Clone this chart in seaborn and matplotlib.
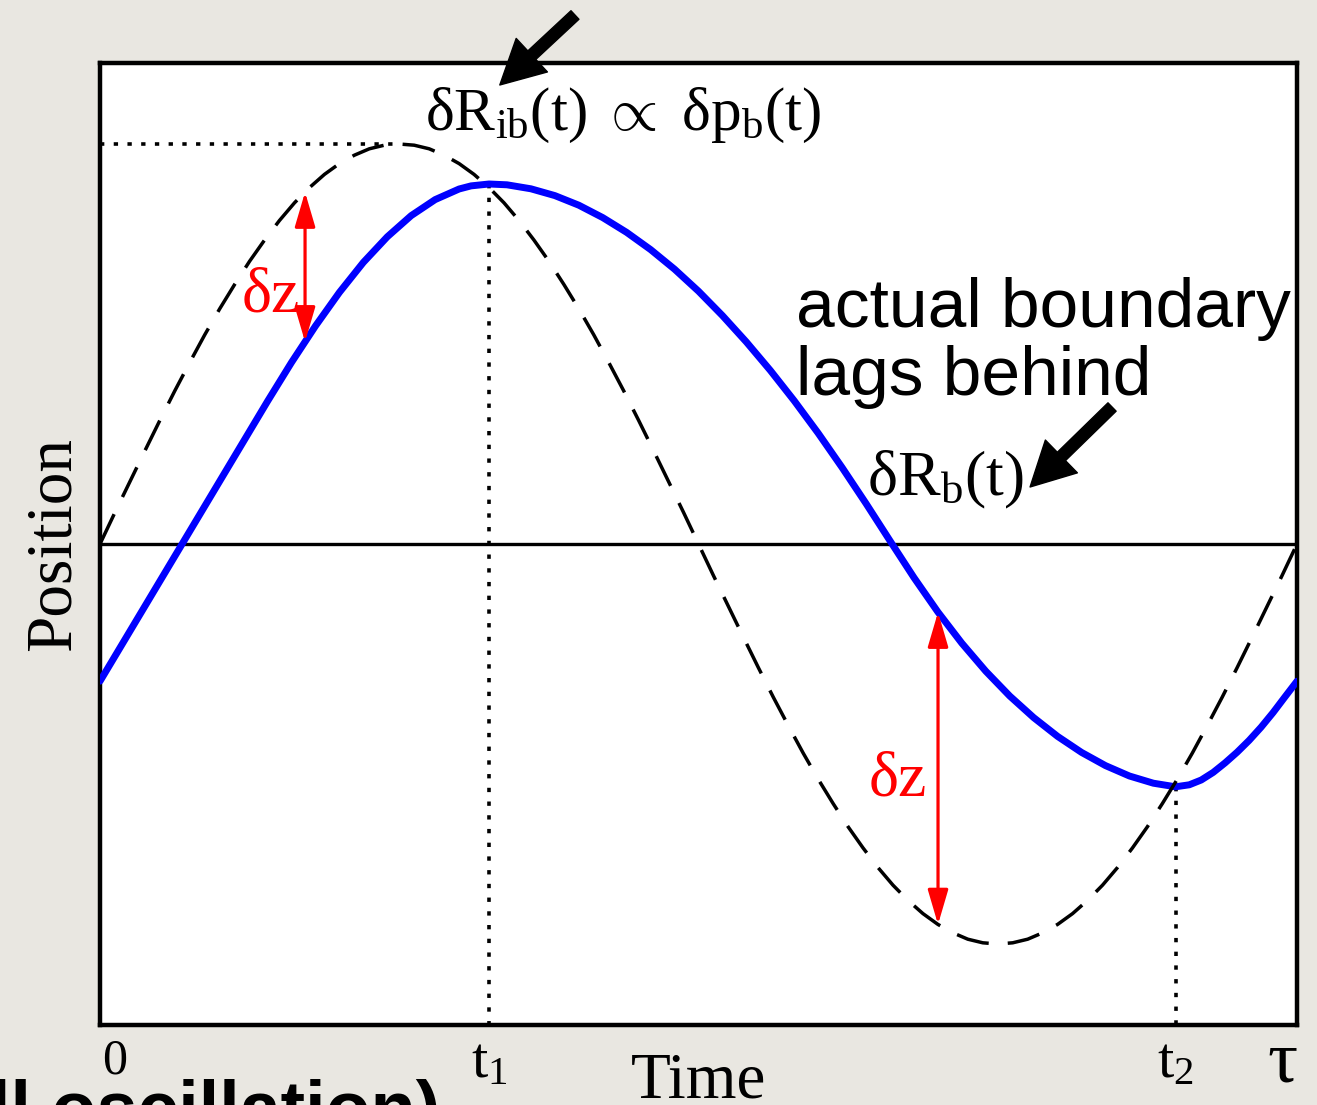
import numpy as np
import pandas as pd
import matplotlib
matplotlib.use("Agg")
import matplotlib.pyplot as plt
import seaborn as sns

# ---------------- data ----------------
# driving (instantaneous) boundary  dR_ib(t): dashed curve, sampled every 0.0125 tau
t_ib = [0.0000, 0.0125, 0.0250, 0.0375, 0.0500, 0.0625, 0.0750, 0.0875, 0.1000, 0.1125,
        0.1250, 0.1375, 0.1500, 0.1625, 0.1750, 0.1875, 0.2000, 0.2125, 0.2250, 0.2375,
        0.2500, 0.2625, 0.2750, 0.2875, 0.3000, 0.3125, 0.3250, 0.3375, 0.3500, 0.3625,
        0.3750, 0.3875, 0.4000, 0.4125, 0.4250, 0.4375, 0.4500, 0.4625, 0.4750, 0.4875,
        0.5000, 0.5125, 0.5250, 0.5375, 0.5500, 0.5625, 0.5750, 0.5875, 0.6000, 0.6125,
        0.6250, 0.6375, 0.6500, 0.6625, 0.6750, 0.6875, 0.7000, 0.7125, 0.7250, 0.7375,
        0.7500, 0.7625, 0.7750, 0.7875, 0.8000, 0.8125, 0.8250, 0.8375, 0.8500, 0.8625,
        0.8750, 0.8875, 0.9000, 0.9125, 0.9250, 0.9375, 0.9500, 0.9625, 0.9750, 0.9875,
        1.0000]
r_ib = [0.000, 0.079, 0.156, 0.233, 0.309, 0.383, 0.454, 0.523, 0.588, 0.649,
        0.707, 0.760, 0.809, 0.853, 0.891, 0.924, 0.951, 0.972, 0.988, 0.997,
        1.000, 0.997, 0.988, 0.972, 0.951, 0.924, 0.891, 0.853, 0.809, 0.760,
        0.707, 0.649, 0.588, 0.523, 0.454, 0.383, 0.309, 0.233, 0.156, 0.079,
        0.000, -0.079, -0.156, -0.233, -0.309, -0.383, -0.454, -0.523, -0.588, -0.649,
        -0.707, -0.760, -0.809, -0.853, -0.891, -0.924, -0.951, -0.972, -0.988, -0.997,
        -1.000, -0.997, -0.988, -0.972, -0.951, -0.924, -0.891, -0.853, -0.809, -0.760,
        -0.707, -0.649, -0.588, -0.523, -0.454, -0.383, -0.309, -0.233, -0.156, -0.079,
        0.000]

# actual boundary dR_b(t): blue curve
t_b = [0.00, 0.02, 0.04, 0.06, 0.08, 0.10, 0.12, 0.14, 0.16, 0.18,
       0.20, 0.22, 0.24, 0.26, 0.28, 0.30, 0.31, 0.325, 0.34, 0.36,
       0.38, 0.40, 0.42, 0.44, 0.46, 0.48, 0.50, 0.52, 0.54, 0.56,
       0.58, 0.60, 0.62, 0.64, 0.66, 0.68, 0.70, 0.72, 0.74, 0.76,
       0.78, 0.80, 0.82, 0.84, 0.86, 0.88, 0.8985, 0.91, 0.92, 0.93,
       0.94, 0.95, 0.96, 0.97, 0.98, 0.99, 1.00]
r_b = [-0.343, -0.243, -0.143, -0.043, 0.057, 0.157, 0.257, 0.357, 0.454, 0.545,
       0.629, 0.704, 0.768, 0.821, 0.861, 0.8875, 0.8953, 0.900, 0.898, 0.888,
       0.871, 0.847, 0.816, 0.779, 0.736, 0.687, 0.632, 0.571, 0.505, 0.434,
       0.358, 0.277, 0.191, 0.101, 0.008, -0.084, -0.170, -0.248, -0.318, -0.380,
       -0.434, -0.481, -0.521, -0.554, -0.580, -0.598, -0.607, -0.602, -0.590, -0.571,
       -0.547, -0.5205, -0.491, -0.458, -0.4215, -0.382, -0.343]

tick_pos = [0.0125, 0.325, 0.8985, 0.988]
tick_labels = ['0', r'$\mathrm{t}_1$', r'$\mathrm{t}_2$', 'τ']
dz_times = [0.1713, 0.7001]

# ---------------- style ----------------
sns.set_theme(style="white")
plt.rcParams['font.family'] = ['Liberation Serif', 'DejaVu Serif']
plt.rcParams['text.color'] = 'black'
plt.rcParams['axes.labelcolor'] = 'black'
plt.rcParams['xtick.color'] = 'black'
plt.rcParams['mathtext.fontset'] = 'custom'
plt.rcParams['mathtext.rm'] = 'Liberation Serif'
plt.rcParams['mathtext.it'] = 'Liberation Serif:italic'
plt.rcParams['mathtext.bf'] = 'Liberation Serif:bold'

BG = '#e9e7e1'
W, H = 1317, 1105
fig = plt.figure(figsize=(W / 100, H / 100), dpi=100, facecolor=BG)
ax = fig.add_axes([100 / W, 1 - 1025 / H, 1197 / W, 962 / H])
ax.set_facecolor('white')

df_ib = pd.DataFrame({'t': t_ib, 'r': r_ib})
df_b = pd.DataFrame({'t': t_b, 'r': r_b})

sns.lineplot(data=df_b, x='t', y='r', ax=ax, color='#0000ff', lw=5.0,
             sort=False, zorder=3)
sns.lineplot(data=df_ib, x='t', y='r', ax=ax, color='black', lw=2.5,
             linestyle=(0, (9.5, 5.5)), sort=False, zorder=4)

ax.set_xlim(0, 1)
ax.set_ylim(-1.2025, 1.2025)

# zero line
ax.axhline(0, color='black', lw=2.4, zorder=2)

# guide lines derived from the data
i_pk = int(np.argmax(r_ib))
t1 = t_b[int(np.argmax(r_b))]
t2 = t_b[int(np.argmin(r_b))]
dot = (0, (1.2, 2.6))
ax.plot([0, t_ib[i_pk]], [r_ib[i_pk], r_ib[i_pk]], color='black', lw=2.6,
        linestyle=dot, zorder=2)
ax.plot([t1, t1], [max(r_b), -1.2025], color='black', lw=2.6, linestyle=dot, zorder=2)
ax.plot([t2, t2], [min(r_b), -1.2025], color='black', lw=2.6, linestyle=dot, zorder=2)

# red dz arrows
for tz in dz_times:
    a = float(np.interp(tz, t_ib, r_ib))
    b = float(np.interp(tz, t_b, r_b))
    ax.annotate('', xy=(tz, a), xytext=(tz, b),
                arrowprops=dict(arrowstyle='<|-|>,head_length=0.85,head_width=0.25',
                                mutation_scale=25, color='#ff0000', lw=2.3,
                                shrinkA=0, shrinkB=0), zorder=5)
ax.text(0.1671, 0.58, 'δz', color='#ff0000', fontsize=46, ha='right',
        va='baseline', zorder=6)
ax.text(0.6909, -0.6275, 'δz', color='#ff0000', fontsize=46, ha='right',
        va='baseline', zorder=6)

# labels on curves
ax.text(0.437, 1.035, r'$\mathrm{δR}_{\mathrm{ib}}\mathrm{(t)\ \propto\ δp}_{\mathrm{b}}\mathrm{(t)}$',
        fontsize=44, ha='center', va='baseline', zorder=6)
ax.text(0.7065, 0.1225, r'$\mathrm{δR}_{\mathrm{b}}\mathrm{(t)}$',
        fontsize=46, ha='center', va='baseline', zorder=6)
ax.text(0.5815, 0.5425, 'actual boundary', fontsize=50, family='Liberation Sans',
        ha='left', va='baseline', zorder=6)
ax.text(0.5815, 0.3725, 'lags behind', fontsize=50, family='Liberation Sans',
        ha='left', va='baseline', zorder=6)

# black arrows
big = 'simple,head_length=1.05,head_width=1.1,tail_width=0.28'
ax.annotate('', xy=(0.334, 1.1475), xytext=(0.3968, 1.3225),
            arrowprops=dict(arrowstyle=big, mutation_scale=30, color='black',
                            shrinkA=0, shrinkB=0),
            annotation_clip=False, zorder=7)
ax.annotate('', xy=(0.777, 0.1425), xytext=(0.8455, 0.3425),
            arrowprops=dict(arrowstyle=big, mutation_scale=30, color='black',
                            shrinkA=0, shrinkB=0),
            annotation_clip=False, zorder=7)

# ticks and axis labels
ax.set_xticks(tick_pos)
ax.set_xticklabels(tick_labels)
ax.set_yticks([])
ax.tick_params(axis='x', length=0, pad=9)
sizes = [36, 42, 42, 54]
for lab, fs in zip(ax.get_xticklabels(), sizes):
    lab.set_fontsize(fs)
    lab.set_color('black')
ax.get_xticklabels()[-1].set_y(0.008)
ax.set_xlabel('Time', fontsize=47, color='black')
ax.set_ylabel('Position', fontsize=47, color='black')
ax.xaxis.set_label_coords(0.5, -0.028)
ax.yaxis.set_label_coords(-0.014, 0.5)

for s in ax.spines.values():
    s.set_visible(True)
    s.set_color('black')
    s.set_linewidth(3.2)

# text cut off at the lower left edge of the slide
fig.text(440 / W, (H - 1133) / H, '(full oscillation)', ha='right', va='baseline',
         fontsize=53, weight='bold', family='Liberation Sans', color='black')

fig.savefig('out.png', dpi=100, facecolor=BG)
